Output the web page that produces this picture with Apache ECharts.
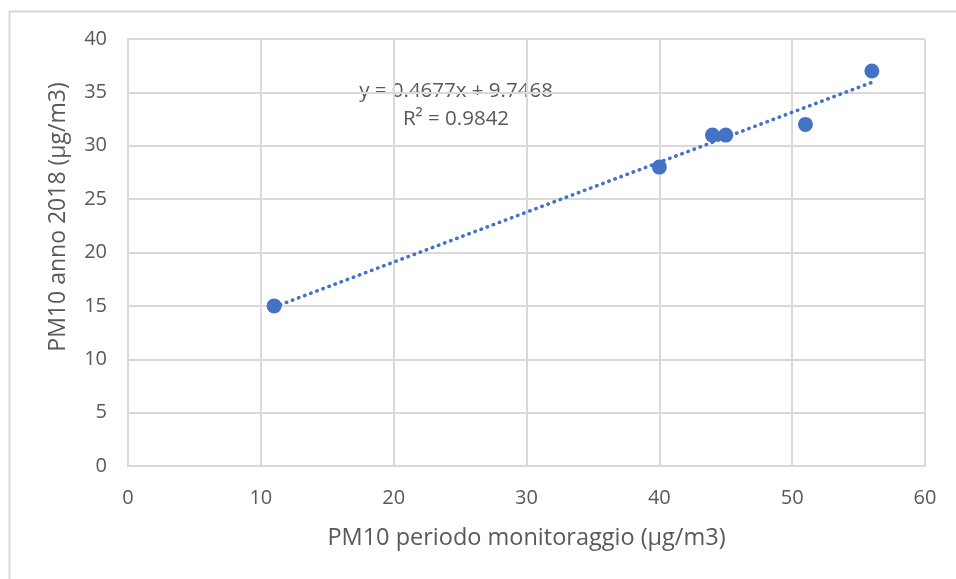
<!DOCTYPE html>
<html>
<head>
<meta charset="utf-8">
<script src="https://cdn.jsdelivr.net/npm/echarts@6/dist/echarts.min.js"></script>
<style>
html,body{margin:0;padding:0;background:#fff;}
#chart{width:956px;height:579px;}
</style>
</head>
<body>
<div id="chart"></div>
<script>
const xValues = [11, 40, 44, 45, 51, 56];
const yValues = [15, 28, 31, 31, 32, 37];
const slope = 0.4677;
const intercept = 9.7468;
const r2 = 0.9842;
const xTitle = 'PM10 periodo monitoraggio (µg/m3)';
const yTitle = 'PM10 anno 2018 (µg/m3)';

const points = xValues.map((x, i) => [x, yValues[i]]);
const xMinData = Math.min(...xValues), xMaxData = Math.max(...xValues);
const trend = [[xMinData, slope * xMinData + intercept], [xMaxData, slope * xMaxData + intercept]];

const font = '"Open Sans", "Noto Sans", sans-serif';
const textColor = '#595959';
const chart = echarts.init(document.getElementById('chart'));
chart.setOption({
  animation: false,
  backgroundColor: '#fff',
  grid: {left: 128, right: 31, top: 39, bottom: 113},
  xAxis: {
    type: 'value', min: 0, max: 60, interval: 10,
    name: xTitle, nameLocation: 'middle', nameGap: 60,
    nameTextStyle: {color: textColor, fontSize: 23.5, fontFamily: font},
    axisLine: {show: true, lineStyle: {color: '#d9d9d9', width: 2}},
    axisTick: {show: false},
    axisLabel: {color: textColor, fontSize: 20, fontFamily: font, margin: 22},
    splitLine: {show: true, lineStyle: {color: '#d9d9d9', width: 2}}
  },
  yAxis: {
    type: 'value', min: 0, max: 40, interval: 5,
    axisLine: {show: true, lineStyle: {color: '#d9d9d9', width: 2}},
    axisTick: {show: false},
    axisLabel: {color: textColor, fontSize: 20, fontFamily: font, margin: 21},
    splitLine: {show: true, lineStyle: {color: '#d9d9d9', width: 2}}
  },
  graphic: [
    {type: 'rect', left: 7, top: 9, shape: {width: 980, height: 600}, style: {fill: 'none', stroke: '#d9d9d9', lineWidth: 2}, z: 0},
    {type: 'text', x: 58, y: 217, rotation: Math.PI / 2, style: {text: yTitle, fill: textColor, font: '23px ' + font, textAlign: 'center', textVerticalAlign: 'middle'}},
    {type: 'text', x: 456, y: 91, style: {text: 'y = ' + slope + 'x + ' + intercept, fill: textColor, font: '20.5px ' + font, textAlign: 'center', textVerticalAlign: 'middle'}},
    {type: 'text', x: 456, y: 119, style: {text: 'R² = ' + r2, fill: textColor, font: '20.5px ' + font, textAlign: 'center', textVerticalAlign: 'middle'}}
  ],
  series: [
    {
      type: 'line', data: trend, symbol: 'none',
      lineStyle: {color: '#4472C4', width: 3.5, type: [0.5, 6], cap: 'round'}, z: 2
    },
    {
      type: 'scatter', data: points, symbolSize: 15,
      itemStyle: {color: '#4472C4', opacity: 1}, z: 3
    }
  ]
});
</script>
</body>
</html>
